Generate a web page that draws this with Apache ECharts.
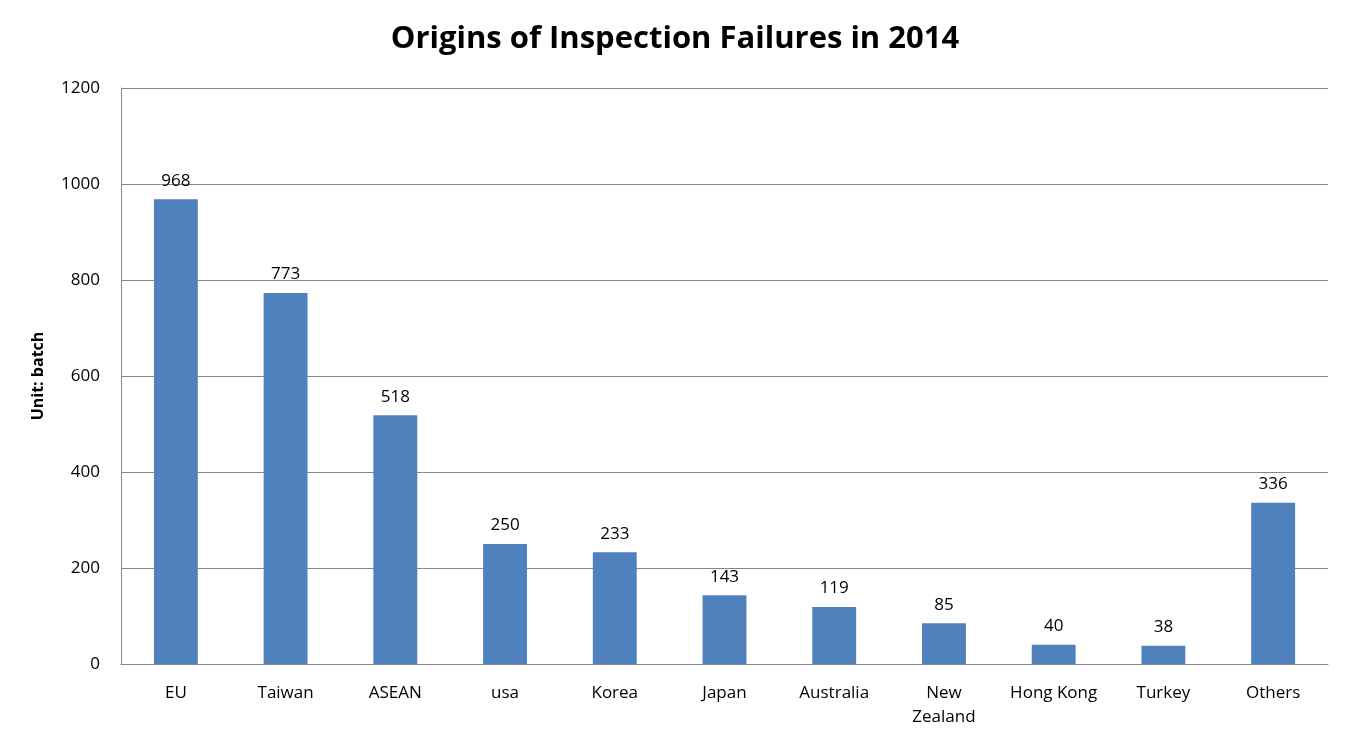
<!DOCTYPE html>
<html>
<head>
<meta charset="utf-8">
<script src="https://cdn.jsdelivr.net/npm/echarts@6/dist/echarts.min.js"></script>
<style>
  html, body { margin: 0; padding: 0; background: #fff; }
  #chart { width: 1350px; height: 743px; }
</style>
</head>
<body>
<div id="chart"></div>
<script>
const categories = ["EU", "Taiwan", "ASEAN", "usa", "Korea", "Japan", "Australia", "New\nZealand", "Hong Kong", "Turkey", "Others"];
const failures = [968, 773, 518, 250, 233, 143, 119, 85, 40, 38, 336];
const yTicks = { min: 0, max: 1200, interval: 200 };

const font = "'Open Sans', 'Liberation Sans', sans-serif";
const myChart = echarts.init(document.getElementById("chart"));

myChart.setOption({
  animation: false,
  title: {
    text: "Origins of Inspection Failures in 2014",
    left: "center",
    top: 19,
    textStyle: { fontFamily: font, fontSize: 31, fontWeight: "bold", color: "#000" }
  },
  grid: { left: 121, right: 22, top: 88, bottom: 79 },
  xAxis: {
    type: "category",
    data: categories,
    axisLine: { lineStyle: { color: "#868686" } },
    axisTick: { show: false },
    axisLabel: { fontFamily: font, fontSize: 17, color: "#000", margin: 17, lineHeight: 24, interval: 0 }
  },
  yAxis: {
    type: "value",
    min: yTicks.min,
    max: yTicks.max,
    interval: yTicks.interval,
    name: "Unit: batch",
    nameLocation: "middle",
    nameGap: 75,
    nameTextStyle: { fontFamily: font, fontSize: 16, fontWeight: "bold", color: "#000" },
    axisLine: { show: true, lineStyle: { color: "#868686" } },
    axisTick: { show: false },
    splitLine: { lineStyle: { color: "#868686" } },
    axisLabel: { fontFamily: font, fontSize: 17, color: "#000", margin: 21, formatter: v => String(v) }
  },
  series: [{
    type: "bar",
    data: failures,
    barWidth: "40%",
    itemStyle: { color: "#4f81bd" },
    label: {
      show: true,
      position: "top",
      distance: 10,
      fontFamily: font,
      fontSize: 17,
      color: "#000"
    }
  }]
});
</script>
</body>
</html>
